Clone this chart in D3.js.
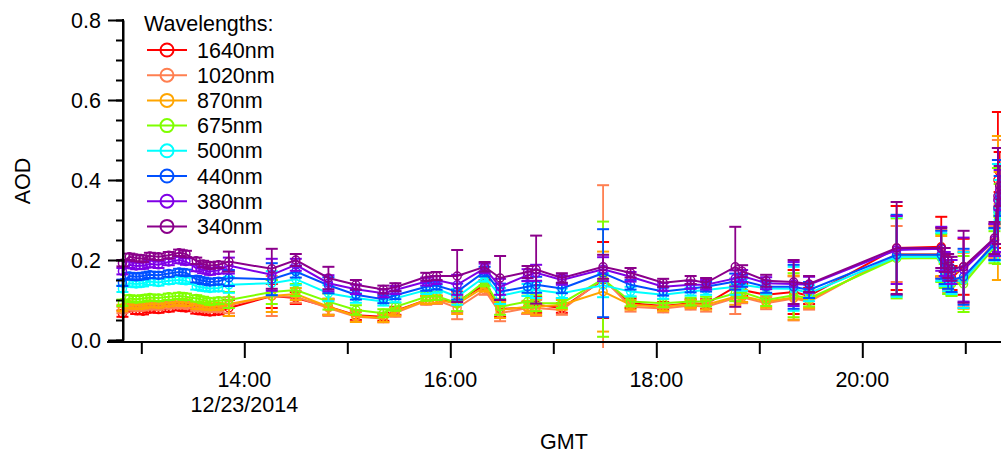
<!DOCTYPE html>
<html><head><meta charset="utf-8">
<script src="https://cdn.jsdelivr.net/npm/d3@7"></script>
<style>
body{margin:0;background:#fff;}
text{font-family:"Liberation Sans",Arial,sans-serif;fill:#000;}
</style>
</head><body>
<svg id="c" width="1001" height="457"></svg>
<script>
// ---------------- DATA ----------------
const times = ["12:49","12:53","12:57","13:01","13:05","13:10","13:16","13:22","13:26","13:32","13:36","13:40","13:45","13:51",
  "14:16","14:30","14:49","15:05","15:21","15:28","15:46","15:52","16:04","16:20","16:29","16:45","16:50","17:05",
  "17:29","17:45","18:04","18:20","18:29","18:46","18:50","19:04","19:20","19:29","20:20","20:46","20:48","20:50",
  "20:52","20:59","21:17","21:19","21:20"];
const wavelengths = ["1640nm","1020nm","870nm","675nm","500nm","440nm","380nm","340nm"];
const colors = ["#ff0000","#ff7f50","#ffa500","#7fff00","#00ffff","#0050ff","#7f00e6","#8b008b"];

const aod1640 = [0.066,0.080,0.073,0.072,0.077,0.076,0.079,0.082,0.080,0.074,0.072,0.070,0.072,0.080,0.110,0.105,0.083,0.062,0.058,0.073,0.100,0.100,0.096,0.138,0.078,0.080,0.088,0.080,0.150,0.092,0.085,0.092,0.090,0.133,0.125,0.113,0.120,0.110,0.230,0.233,0.180,0.165,0.155,0.183,0.250,0.400,0.420];
const aod1020 = [0.075,0.083,0.081,0.082,0.085,0.084,0.087,0.088,0.087,0.081,0.080,0.078,0.079,0.087,0.110,0.108,0.080,0.058,0.054,0.068,0.098,0.100,0.080,0.125,0.067,0.080,0.080,0.075,0.154,0.083,0.079,0.086,0.083,0.105,0.107,0.092,0.104,0.096,0.215,0.215,0.170,0.155,0.148,0.152,0.245,0.350,0.390];
const aod870  = [0.080,0.088,0.086,0.087,0.090,0.089,0.092,0.094,0.093,0.086,0.085,0.083,0.084,0.090,0.110,0.115,0.083,0.060,0.055,0.071,0.100,0.102,0.090,0.133,0.075,0.083,0.083,0.088,0.121,0.088,0.083,0.090,0.088,0.108,0.110,0.096,0.106,0.100,0.210,0.210,0.165,0.150,0.142,0.148,0.240,0.330,0.370];
const aod675  = [0.093,0.104,0.102,0.104,0.106,0.105,0.108,0.110,0.108,0.104,0.100,0.096,0.098,0.100,0.120,0.125,0.096,0.075,0.067,0.083,0.108,0.110,0.092,0.146,0.083,0.096,0.092,0.092,0.152,0.096,0.092,0.096,0.096,0.117,0.120,0.100,0.112,0.104,0.204,0.205,0.160,0.145,0.140,0.140,0.232,0.310,0.340];
const aod500  = [0.128,0.142,0.140,0.142,0.146,0.144,0.148,0.150,0.148,0.134,0.131,0.129,0.130,0.138,0.142,0.152,0.117,0.105,0.096,0.104,0.125,0.128,0.108,0.158,0.110,0.125,0.125,0.117,0.137,0.121,0.113,0.121,0.125,0.133,0.138,0.129,0.128,0.117,0.208,0.208,0.165,0.152,0.145,0.150,0.238,0.320,0.350];
const aod440  = [0.143,0.160,0.158,0.160,0.163,0.162,0.166,0.170,0.168,0.152,0.148,0.145,0.147,0.155,0.152,0.171,0.137,0.113,0.102,0.112,0.133,0.136,0.121,0.171,0.121,0.133,0.138,0.129,0.167,0.138,0.121,0.129,0.133,0.146,0.148,0.133,0.133,0.125,0.213,0.213,0.170,0.158,0.150,0.158,0.240,0.330,0.360];
const aod380  = [0.172,0.188,0.185,0.186,0.190,0.188,0.195,0.200,0.196,0.180,0.175,0.171,0.174,0.186,0.163,0.188,0.142,0.127,0.117,0.125,0.146,0.150,0.138,0.179,0.133,0.162,0.168,0.150,0.177,0.158,0.133,0.138,0.138,0.154,0.160,0.142,0.140,0.138,0.225,0.228,0.190,0.178,0.170,0.176,0.250,0.350,0.375];
const aod340  = [0.192,0.208,0.205,0.203,0.210,0.208,0.212,0.218,0.215,0.198,0.190,0.186,0.188,0.196,0.178,0.200,0.155,0.138,0.126,0.132,0.158,0.160,0.160,0.183,0.155,0.170,0.176,0.155,0.183,0.168,0.143,0.150,0.143,0.183,0.172,0.148,0.145,0.140,0.230,0.230,0.200,0.185,0.178,0.183,0.255,0.360,0.385];

const err1640 = [0.008,0.008,0.008,0.008,0.008,0.008,0.008,0.008,0.008,0.008,0.008,0.008,0.008,0.020,0.030,0.015,0.020,0.012,0.010,0.010,0.010,0.010,0.025,0.012,0.020,0.015,0.020,0.012,0.095,0.012,0.010,0.010,0.012,0.020,0.015,0.015,0.055,0.020,0.105,0.075,0.030,0.030,0.030,0.070,0.040,0.170,0.050];
const err1020 = [0.008,0.008,0.008,0.008,0.008,0.008,0.008,0.008,0.008,0.008,0.008,0.008,0.008,0.020,0.050,0.015,0.020,0.012,0.010,0.010,0.010,0.010,0.028,0.012,0.020,0.015,0.020,0.012,0.233,0.012,0.010,0.010,0.012,0.040,0.015,0.015,0.055,0.020,0.070,0.060,0.030,0.030,0.030,0.070,0.040,0.150,0.050];
const err870  = [0.008,0.008,0.008,0.008,0.008,0.008,0.008,0.008,0.008,0.008,0.008,0.008,0.008,0.030,0.040,0.015,0.020,0.015,0.010,0.010,0.010,0.010,0.025,0.012,0.020,0.015,0.020,0.012,0.100,0.012,0.010,0.010,0.012,0.020,0.015,0.015,0.055,0.020,0.100,0.050,0.030,0.030,0.030,0.070,0.040,0.180,0.050];
const err675  = [0.008,0.008,0.008,0.008,0.008,0.008,0.008,0.008,0.008,0.008,0.008,0.008,0.008,0.020,0.030,0.015,0.020,0.012,0.010,0.010,0.010,0.010,0.020,0.012,0.020,0.015,0.020,0.012,0.144,0.012,0.010,0.010,0.012,0.020,0.015,0.015,0.055,0.020,0.100,0.060,0.030,0.030,0.030,0.070,0.040,0.120,0.050];
const err500  = [0.008,0.008,0.008,0.008,0.008,0.008,0.008,0.008,0.008,0.008,0.008,0.008,0.008,0.020,0.030,0.015,0.020,0.012,0.010,0.010,0.010,0.010,0.020,0.012,0.020,0.015,0.020,0.012,0.030,0.012,0.010,0.010,0.012,0.020,0.015,0.015,0.055,0.020,0.100,0.060,0.030,0.030,0.030,0.070,0.040,0.120,0.050];
const err440  = [0.008,0.008,0.008,0.008,0.008,0.008,0.008,0.008,0.008,0.008,0.008,0.008,0.008,0.020,0.040,0.015,0.020,0.012,0.010,0.010,0.010,0.010,0.020,0.012,0.020,0.015,0.020,0.012,0.110,0.012,0.010,0.010,0.012,0.020,0.015,0.015,0.055,0.020,0.100,0.060,0.030,0.030,0.030,0.070,0.040,0.120,0.050];
const err380  = [0.008,0.008,0.008,0.008,0.008,0.008,0.008,0.008,0.008,0.008,0.008,0.008,0.008,0.020,0.040,0.015,0.020,0.012,0.010,0.010,0.010,0.010,0.025,0.012,0.020,0.015,0.020,0.012,0.030,0.012,0.010,0.010,0.012,0.020,0.015,0.015,0.055,0.020,0.085,0.055,0.030,0.030,0.030,0.080,0.040,0.130,0.050];
const err340  = [0.008,0.008,0.008,0.008,0.008,0.008,0.008,0.008,0.008,0.008,0.008,0.008,0.008,0.025,0.050,0.015,0.028,0.012,0.010,0.010,0.010,0.010,0.065,0.012,0.055,0.015,0.085,0.012,0.030,0.012,0.010,0.010,0.012,0.100,0.015,0.015,0.055,0.020,0.115,0.050,0.030,0.030,0.030,0.090,0.040,0.120,0.050];

const yTickValues = [0, 0.2, 0.4, 0.6, 0.8];
const yTickLabels = ["0.0","0.2","0.4","0.6","0.8"];
const xTickTimes = ["14:00","16:00","18:00","20:00"];
const xTickLabels = ["14:00","16:00","18:00","20:00"];
const xMinorTimes = ["13:00","15:00","17:00","19:00","21:00"];
const dateLabel = "12/23/2014";

// ---------------- CHART ----------------
const FS = 21.5;
const values = [aod1640, aod1020, aod870, aod675, aod500, aod440, aod380, aod340];
const errors = [err1640, err1020, err870, err675, err500, err440, err380, err340];
const parse = d3.utcParse("%Y-%m-%d %H:%M:%S");
const pt = s => parse("2014-12-23 " + (s.length === 5 ? s + ":00" : s));
const svg = d3.select("#c");

const x = d3.scaleUtc().domain([pt("12:49:20"), pt("21:20:48")]).range([123, 1001]);
const y = d3.scaleLinear().domain([0, 0.8]).range([340, 20]);

svg.append("defs").append("clipPath").attr("id","clip")
  .append("rect").attr("x", 116).attr("y", 0).attr("width", 890).attr("height", 348);

const plot = svg.append("g").attr("clip-path","url(#clip)");

const line = d3.line().x(d => x(d.t)).y(d => y(d.v));
const capW = 6;

values.forEach((vals, si) => {
  const data = vals.map((v, i) => ({t: pt(times[i]), v, e: errors[si][i]}));
  const g = plot.append("g").attr("stroke", colors[si]).attr("fill","none");
  const eb = g.selectAll("g.eb").data(data).join("g").attr("class","eb").attr("stroke-width",2);
  eb.append("line").attr("x1", d => x(d.t)).attr("x2", d => x(d.t))
    .attr("y1", d => y(d.v - d.e)).attr("y2", d => y(d.v + d.e)).attr("stroke-width",1.8);
  eb.append("line").attr("x1", d => x(d.t) - capW).attr("x2", d => x(d.t) + capW)
    .attr("y1", d => y(d.v + d.e)).attr("y2", d => y(d.v + d.e));
  eb.append("line").attr("x1", d => x(d.t) - capW).attr("x2", d => x(d.t) + capW)
    .attr("y1", d => y(d.v - d.e)).attr("y2", d => y(d.v - d.e));
  g.append("path").datum(data).attr("d", line).attr("stroke-width", 2);
  g.selectAll("circle").data(data).join("circle")
    .attr("cx", d => x(d.t)).attr("cy", d => y(d.v)).attr("r", 4).attr("stroke-width", 1.5);
});

// ---- Y axis ----
const yMinor = d3.range(0, 0.8001, 0.05);
const ya = svg.append("g").attr("transform","translate(123,0)");
ya.call(d3.axisLeft(y).tickValues(yMinor).tickSize(7).tickFormat("").tickSizeOuter(0));
ya.call(g => g.selectAll(".tick line").attr("stroke-width",2));
const yb = svg.append("g").attr("transform","translate(123,0)");
yb.call(d3.axisLeft(y).tickValues(yTickValues).tickSize(15).tickFormat("").tickSizeOuter(0));
yb.call(g => { g.selectAll(".tick line").attr("stroke-width",2); g.select(".domain").attr("stroke-width",2); });
svg.append("line").attr("x1",123).attr("x2",123).attr("y1", y(0.8)-1).attr("y2", 343).attr("stroke","#000").attr("stroke-width",2);
svg.selectAll("text.ytl").data(yTickValues).join("text").attr("class","ytl")
  .attr("x", 101).attr("y", d => y(d) + 7.5).attr("text-anchor","end").attr("font-size", FS)
  .text((d,i) => yTickLabels[i]);

// ---- X axis ----
const xaY = 342;
svg.append("line").attr("x1",107).attr("x2",1001).attr("y1",xaY).attr("y2",xaY).attr("stroke","#000").attr("stroke-width",2);
const xa = svg.append("g").attr("transform",`translate(0,${xaY})`);
xa.call(d3.axisBottom(x).tickValues(xMinorTimes.map(pt)).tickSize(12).tickFormat("").tickSizeOuter(0));
xa.call(g => { g.select(".domain").remove(); g.selectAll(".tick line").attr("stroke-width",2); });
const xb = svg.append("g").attr("transform",`translate(0,${xaY})`);
xb.call(d3.axisBottom(x).tickValues(xTickTimes.map(pt)).tickSize(16).tickFormat("").tickSizeOuter(0));
xb.call(g => { g.select(".domain").remove(); g.selectAll(".tick line").attr("stroke-width",2); });
svg.selectAll("text.xtl").data(xTickTimes).join("text").attr("class","xtl")
  .attr("x", d => x(pt(d))).attr("y", 387).attr("text-anchor","middle").attr("font-size",FS)
  .text((d,i) => xTickLabels[i]);
svg.append("text").attr("x", x(pt(xTickTimes[0]))).attr("y", 412).attr("text-anchor","middle")
  .attr("font-size",FS).text(dateLabel);

// axis titles
svg.append("text").attr("x", 564).attr("y", 449).attr("text-anchor","middle").attr("font-size",FS).text("GMT");
svg.append("text").attr("transform","translate(30,181) rotate(-90)").attr("text-anchor","middle").attr("font-size",FS).text("AOD");

// ---- Legend ----
svg.append("text").attr("x",144).attr("y",31).attr("font-size",FS).text("Wavelengths:");
const leg = svg.selectAll("g.leg").data(wavelengths).join("g").attr("class","leg")
  .attr("transform",(d,i) => `translate(0,${50 + i*25.2})`);
leg.append("line").attr("x1",147).attr("x2",187).attr("y1",0).attr("y2",0)
  .attr("stroke",(d,i)=>colors[i]).attr("stroke-width",2);
leg.append("circle").attr("cx",167).attr("cy",0).attr("r",6.5).attr("fill","none")
  .attr("stroke",(d,i)=>colors[i]).attr("stroke-width",2);
leg.append("text").attr("x",197).attr("y",7.5).attr("font-size",FS).text(d => d);
</script>
</body></html>
